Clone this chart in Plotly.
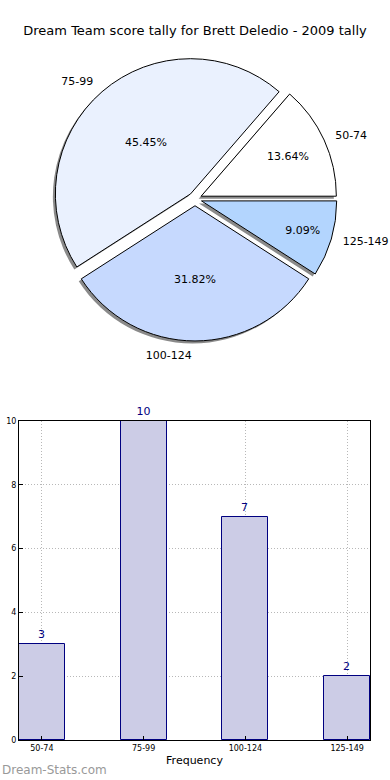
import plotly.graph_objects as go

categories = ["50-74", "75-99", "100-124", "125-149"]
counts = [3, 10, 7, 2]
pie_colors = ["#ffffff", "#eaf1fe", "#c6d9fe", "#b3d5fe"]
y_ticks = [0, 2, 4, 6, 8, 10]

title = "Dream Team score tally for Brett Deledio - 2009 tally"
FONT = "DejaVu Sans"

total = sum(counts)
rot = 90 - 360 * counts[0] / total

cy = 1 - 199 / 780
half = 0.182
pie_domain = dict(x=[0.02, 0.98], y=[cy - half, cy + half])
sx, sy = 2.5 / 390, 2.5 / 780
shadow_domain = dict(x=[0.02 - sx, 0.98 - sx], y=[cy - half - sy, cy + half - sy])
lh = half * 1.06
label_domain = dict(x=[0.0, 1.0], y=[cy - lh, cy + lh])

fig = go.Figure()

# shadow
fig.add_trace(go.Pie(
    labels=categories, values=counts, sort=False, direction="counterclockwise",
    rotation=rot, pull=[0.05] * 4,
    marker=dict(colors=["#8a8a8a"] * 4, line=dict(width=0)),
    textinfo="none", domain=shadow_domain, showlegend=False, hoverinfo="skip",
))
# slices with inside percentages
fig.add_trace(go.Pie(
    labels=categories, values=counts, sort=False, direction="counterclockwise",
    rotation=rot, pull=[0.05] * 4,
    marker=dict(colors=pie_colors, line=dict(color="#000000", width=1)),
    textinfo="percent", texttemplate="%{percent:.2%}", textposition="inside",
    insidetextorientation="horizontal",
    textfont=dict(family=FONT, size=11, color="#000000"),
    domain=pie_domain, showlegend=False, hoverinfo="skip",
))
# outside labels (transparent, slightly larger ring so labels sit further out)
fig.add_trace(go.Pie(
    labels=categories, values=counts, sort=False, direction="counterclockwise",
    rotation=rot, pull=[0.05] * 4,
    marker=dict(colors=["rgba(0,0,0,0)"] * 4, line=dict(width=0)),
    textinfo="label", textposition="outside",
    outsidetextfont=dict(family=FONT, size=11, color="#000000"),
    domain=label_domain, showlegend=False, hoverinfo="skip",
))

fig.add_trace(go.Bar(
    x=categories, y=counts, width=0.45,
    marker=dict(color="#cccce6", line=dict(color="#000080", width=1)),
    text=[str(c) for c in counts], textposition="outside",
    textfont=dict(family=FONT, size=11, color="#000080"),
    cliponaxis=False, showlegend=False, xaxis="x", yaxis="y",
))

grid = dict(showgrid=True, gridcolor="#b8b8b8", griddash="1px,2px", gridwidth=1)

fig.update_layout(
    width=390, height=780,
    margin=dict(l=0, r=0, t=0, b=0, autoexpand=False),
    paper_bgcolor="#ffffff", plot_bgcolor="#ffffff",
    font=dict(family=FONT, color="#000000"),
    title=dict(text=title, x=0.5, xanchor="center", y=1 - 30 / 780, yanchor="middle",
               font=dict(family=FONT, size=13, color="#000000")),
    xaxis=dict(
        domain=[19 / 390, 370 / 390], range=[-0.225, 3.225], automargin=False,
        showline=True, linecolor="#000000", linewidth=1, mirror=True,
        ticks="inside", ticklen=4, tickcolor="#000000",
        tickfont=dict(family=FONT, size=8, color="#000000"),
        title=dict(text="Frequency", font=dict(family=FONT, size=11, color="#000000"), standoff=4),
        anchor="y", zeroline=False, **grid,
    ),
    yaxis=dict(
        domain=[1 - 740 / 780, 1 - 421 / 780], range=[0, 10], automargin=False,
        tickvals=y_ticks,
        showline=True, linecolor="#000000", linewidth=1, mirror=True,
        ticks="inside", ticklen=4, tickcolor="#000000",
        tickfont=dict(family=FONT, size=8, color="#000000"),
        anchor="x", zeroline=False, **grid,
    ),
    bargap=0,
)

fig.add_annotation(
    text="Dream-Stats.com", xref="paper", yref="paper", x=0, y=1 - 770 / 780,
    xanchor="left", yanchor="middle", showarrow=False,
    font=dict(family=FONT, size=12, color="#999999"),
)

fig.write_html("out.html", config={"displayModeBar": False},
               post_script="document.body.style.margin='0';")
